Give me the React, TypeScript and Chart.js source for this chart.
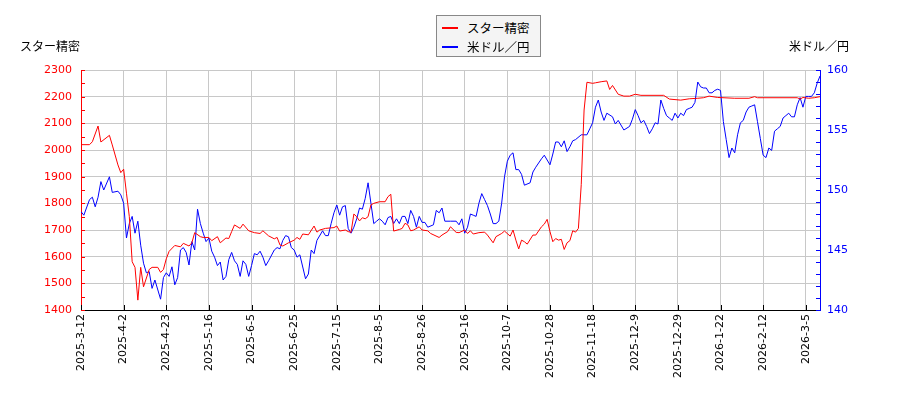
import { useEffect, useRef } from 'react'
import { Chart, registerables } from 'chart.js'

Chart.register(...registerables)

// x axis = trading-day index, one tick label every 15 trading days
const tickStep = 15
const tickLabels = [
  '2025-3-12', '2025-4-2', '2025-4-23', '2025-5-16', '2025-6-5', '2025-6-25',
  '2025-7-15', '2025-8-5', '2025-8-26', '2025-9-16', '2025-10-7', '2025-10-28',
  '2025-11-18', '2025-12-9', '2025-12-29', '2026-1-22', '2026-2-12', '2026-3-5'
]
const lastIndex = 260

// スター精密 (left axis)
const starIdx = [
  0, 3, 4, 6, 7, 10, 11, 13, 14, 15, 16, 17, 18, 19, 20, 21, 22, 24, 25, 27,
  28, 29, 30, 31, 33, 35, 36, 38, 39, 40, 42, 43, 45, 46, 48, 49, 51, 52, 53, 54,
  56, 57, 59, 61, 63, 64, 66, 68, 69, 70, 71, 73, 75, 76, 77, 78, 80, 82, 83, 84,
  86, 89, 90, 91, 93, 94, 95, 96, 97, 98, 99, 100, 101, 102, 103, 105, 107, 108, 109, 110,
  112, 113, 114, 115, 116, 117, 119, 120, 122, 123, 126, 127, 129, 130, 132, 133, 135, 136, 137, 138,
  140, 142, 143, 145, 146, 148, 149, 151, 152, 153, 154, 155, 156, 157, 159, 160, 162, 163, 164, 165,
  166, 167, 168, 169, 170, 171, 172, 173, 174, 175, 176, 177, 178, 180, 181, 183, 185, 186, 187, 189,
  191, 193, 195, 197, 205, 207, 211, 214, 217, 219, 221, 224, 230, 235, 237, 238, 252, 253, 254, 256,
  258, 260
]
const starPrice = [
  2020, 2020, 2031, 2090, 2030, 2055, 2019, 1944, 1915, 1928, 1838, 1750, 1581, 1560, 1437, 1560, 1487, 1552, 1560, 1560,
  1541, 1552, 1592, 1620, 1642, 1637, 1650, 1640, 1652, 1690, 1675, 1672, 1672, 1660, 1675, 1652, 1670, 1668, 1694, 1719,
  1706, 1722, 1697, 1690, 1687, 1697, 1678, 1667, 1672, 1644, 1640, 1652, 1662, 1672, 1665, 1685, 1682, 1715, 1692, 1700,
  1706, 1709, 1715, 1696, 1700, 1694, 1691, 1760, 1750, 1734, 1746, 1742, 1750, 1794, 1800, 1806, 1806, 1825, 1834, 1696,
  1702, 1706, 1725, 1719, 1697, 1700, 1712, 1700, 1697, 1687, 1672, 1681, 1694, 1712, 1691, 1690, 1700, 1687, 1697, 1685,
  1690, 1692, 1681, 1652, 1675, 1687, 1696, 1677, 1700, 1662, 1629, 1662, 1656, 1647, 1681, 1681, 1712, 1722, 1740, 1694,
  1656, 1668, 1662, 1665, 1627, 1652, 1660, 1697, 1692, 1706, 1870, 2150, 2254, 2250, 2252, 2256, 2259, 2227, 2242, 2209,
  2202, 2202, 2209, 2205, 2205, 2191, 2187, 2192, 2194, 2196, 2202, 2197, 2194, 2194, 2200, 2196, 2196, 2191, 2197, 2194,
  2196, 2200
]

// 米ドル／円 (right axis)
const fxIdx = [
  0, 1, 3, 4, 5, 6, 7, 8, 10, 11, 13, 14, 15, 16, 17, 18, 19, 20, 21, 22,
  23, 24, 25, 26, 28, 29, 30, 31, 32, 33, 34, 35, 36, 37, 38, 39, 40, 41, 42, 43,
  44, 45, 46, 47, 48, 49, 50, 51, 52, 53, 54, 55, 56, 57, 58, 59, 60, 61, 62, 63,
  64, 65, 66, 68, 69, 70, 71, 72, 73, 74, 75, 76, 77, 79, 80, 81, 82, 83, 85, 86,
  87, 88, 89, 90, 91, 92, 93, 94, 95, 96, 97, 98, 99, 100, 101, 102, 103, 104, 105, 106,
  107, 108, 109, 110, 111, 112, 113, 114, 115, 116, 117, 118, 119, 120, 121, 122, 124, 125, 126, 127,
  128, 130, 132, 133, 134, 135, 136, 137, 138, 139, 140, 141, 142, 143, 144, 145, 146, 147, 148, 149,
  150, 151, 152, 153, 154, 155, 156, 158, 159, 160, 162, 163, 165, 166, 167, 168, 169, 170, 171, 172,
  173, 174, 176, 178, 179, 180, 181, 182, 183, 184, 185, 187, 188, 189, 191, 193, 194, 195, 196, 197,
  198, 199, 200, 201, 202, 203, 204, 205, 206, 207, 208, 209, 210, 211, 212, 213, 214, 215, 216, 217,
  218, 219, 220, 221, 222, 223, 224, 225, 226, 227, 228, 229, 230, 231, 232, 233, 234, 235, 236, 237,
  238, 239, 240, 241, 242, 243, 244, 245, 246, 247, 248, 249, 250, 251, 252, 253, 254, 255, 256, 257,
  258, 259, 260
]
const fxRate = [
  148.2, 147.9, 149.2, 149.4, 148.6, 149.4, 150.7, 150.0, 151.1, 149.8, 149.9, 149.6, 148.9, 146.0, 147.2, 147.8, 146.4, 147.4, 145.4, 143.9,
  143.1, 143.2, 141.8, 142.5, 140.9, 142.7, 143.1, 142.8, 143.6, 142.1, 142.7, 145.0, 145.2, 144.8, 143.75, 145.7, 145.0, 148.4, 147.2, 146.4,
  145.7, 146.0, 144.9, 144.4, 143.7, 144.0, 142.5, 142.8, 144.2, 144.8, 144.1, 143.8, 142.8, 144.1, 143.8, 142.8, 143.7, 144.7, 144.6, 144.9,
  144.4, 143.7, 144.1, 145.0, 145.2, 145.1, 145.8, 146.2, 146.1, 145.2, 145.0, 144.4, 144.6, 142.6, 143.0, 145.0, 144.7, 145.8, 146.6, 146.2,
  146.2, 147.2, 148.1, 148.75, 147.9, 148.6, 148.7, 146.8, 146.4, 146.9, 147.6, 148.5, 148.4, 149.3, 150.6, 148.9, 147.2, 147.4, 147.6, 147.4,
  147.1, 147.7, 147.8, 147.2, 147.6, 147.2, 147.8, 147.8, 147.2, 148.3, 147.8, 146.9, 147.8, 147.3, 147.3, 146.9, 147.1, 148.3, 148.1, 148.5,
  147.4, 147.4, 147.4, 147.1, 147.6, 146.4, 146.9, 148.0, 147.9, 147.8, 148.9, 149.7, 149.2, 148.7, 148.0, 147.2, 147.2, 147.4, 148.9, 151.1,
  152.4, 152.9, 153.1, 151.7, 151.7, 151.3, 150.4, 150.6, 151.5, 151.9, 152.6, 152.9, 152.1, 153.0, 154.0, 154.0, 153.6, 154.1, 153.2, 153.6,
  154.1, 154.2, 154.6, 154.6, 155.1, 155.6, 156.9, 157.5, 156.5, 155.8, 156.4, 156.1, 155.5, 155.8, 155.0, 155.3, 155.9, 156.7, 156.2, 155.6,
  155.8, 155.3, 154.7, 155.1, 155.6, 155.5, 157.5, 156.8, 156.2, 156.0, 155.8, 156.4, 156.0, 156.4, 156.2, 156.7, 156.8, 156.9, 157.3, 159.0,
  158.6, 158.5, 158.5, 158.1, 158.1, 158.3, 158.4, 158.3, 155.7, 154.2, 152.7, 153.5, 153.1, 154.6, 155.6, 155.8, 156.5, 156.9, 157.0, 157.1,
  155.7, 154.3, 152.9, 152.7, 153.5, 153.3, 154.9, 155.1, 155.3, 156.0, 156.2, 156.4, 156.1, 156.1, 157.1, 157.7, 156.9, 157.8, 157.8, 157.8,
  158.1, 158.9, 159.5
]

const jpFont = "'Noto Sans CJK JP', sans-serif"
const numFont = 'DejaVu Sans'

// small inward tick marks on the three axes
const innerTicks = {
  id: 'innerTicks',
  afterDraw(chart: any) {
    const { ctx, chartArea: a, scales } = chart
    const seg = (x1: number, y1: number, x2: number, y2: number) => {
      ctx.beginPath()
      ctx.moveTo(x1, y1)
      ctx.lineTo(x2, y2)
      ctx.stroke()
    }
    ctx.save()
    ctx.lineWidth = 1
    ctx.strokeStyle = 'red'
    for (let v = 1400; v <= 2300; v += 50) {
      const y = Math.round(scales.y.getPixelForValue(v)) + 0.5
      seg(a.left, y, a.left + 4, y)
    }
    ctx.strokeStyle = 'blue'
    for (let v = 140; v <= 160; v += 1) {
      const y = Math.round(scales.y1.getPixelForValue(v)) + 0.5
      seg(a.right, y, a.right - 4, y)
    }
    ctx.strokeStyle = '#000'
    tickLabels.forEach((_, i) => {
      const x = Math.round(scales.x.getPixelForValue(i * tickStep)) + 0.5
      seg(x, a.bottom, x, a.bottom - 5)
    })
    ctx.restore()
  }
}

export default function App() {
  const canvasRef = useRef<HTMLCanvasElement>(null)

  useEffect(() => {
    document.body.style.margin = '0'
    if (!canvasRef.current) return
    const chart = new Chart(canvasRef.current, {
      type: 'line',
      data: {
        datasets: [
          {
            label: 'スター精密',
            data: starIdx.map((x, i) => ({ x, y: starPrice[i] })),
            borderColor: 'red',
            borderWidth: 1,
            pointRadius: 0,
            yAxisID: 'y'
          },
          {
            label: '米ドル／円',
            data: fxIdx.map((x, i) => ({ x, y: fxRate[i] })),
            borderColor: 'blue',
            borderWidth: 1,
            pointRadius: 0,
            yAxisID: 'y1'
          }
        ]
      },
      options: {
        animation: false,
        responsive: false,
        layout: { padding: { top: 70 } },
        plugins: { legend: { display: false }, tooltip: { enabled: false } },
        scales: {
          x: {
            type: 'linear',
            min: 0,
            max: lastIndex,
            afterBuildTicks: (s: any) => {
              s.ticks = tickLabels.map((_, i) => ({ value: i * tickStep }))
            },
            afterFit: (s: any) => { s.height = 90 },
            ticks: {
              autoSkip: false,
              maxRotation: 90,
              minRotation: 90,
              padding: 4,
              color: '#000',
              font: { family: numFont, size: 11 },
              callback: (_v: any, i: number) => tickLabels[i]
            },
            grid: { color: '#c8c8c8', drawTicks: false },
            border: { color: '#000' }
          },
          y: {
            position: 'left',
            min: 1400,
            max: 2300,
            afterFit: (s: any) => { s.width = 81 },
            ticks: {
              stepSize: 100,
              padding: 9,
              color: 'red',
              font: { family: numFont, size: 11 },
              callback: (v: any) => String(v)
            },
            grid: { color: '#c8c8c8', drawTicks: false },
            border: { color: 'red' }
          },
          y1: {
            position: 'right',
            min: 140,
            max: 160,
            afterFit: (s: any) => { s.width = 80 },
            ticks: {
              stepSize: 5,
              padding: 7,
              color: 'blue',
              font: { family: numFont, size: 11 },
              callback: (v: any) => String(v)
            },
            grid: { drawOnChartArea: false, drawTicks: false },
            border: { color: 'blue' }
          }
        }
      },
      plugins: [innerTicks]
    })
    return () => chart.destroy()
  }, [])

  const legendRow = (top: number, color: string, text: string) => (
    <div style={{ position: 'absolute', left: 0, top, width: '100%', height: 18 }}>
      <div style={{ position: 'absolute', left: 5, top: 8, width: 16, height: 2, background: color }} />
      <div style={{ position: 'absolute', left: 30, top: 0, lineHeight: '18px', whiteSpace: 'nowrap' }}>{text}</div>
    </div>
  )

  return (
    <div style={{ position: 'relative', width: 900, height: 400, fontFamily: jpFont, color: '#000' }}>
      <canvas ref={canvasRef} width={900} height={400} style={{ display: 'block' }} />
      <div style={{
        position: 'absolute', left: 436, top: 15, width: 105, height: 42, boxSizing: 'border-box',
        border: '1px solid #888', background: '#f4f4f4', fontSize: 12.5
      }}>
        {legendRow(3, 'red', 'スター精密')}
        {legendRow(22, 'blue', '米ドル／円')}
      </div>
      <div style={{ position: 'absolute', left: 20, top: 37, fontSize: 12, lineHeight: '18px' }}>スター精密</div>
      <div style={{ position: 'absolute', left: 789, top: 37, fontSize: 12, lineHeight: '18px' }}>米ドル／円</div>
    </div>
  )
}
